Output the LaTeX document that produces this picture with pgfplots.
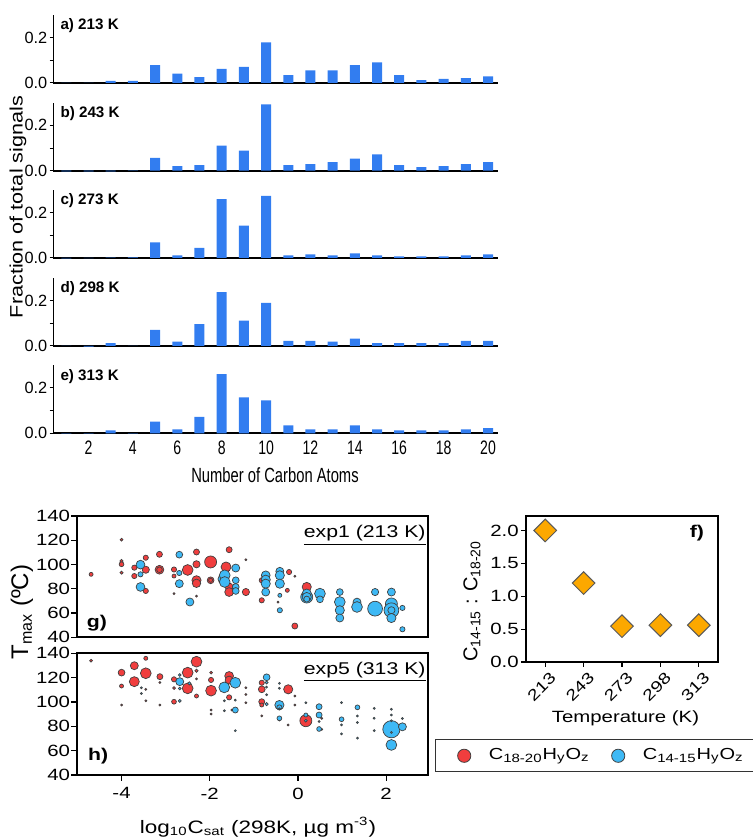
\documentclass[border=0pt]{standalone}
\usepackage{fontspec}
\setmainfont{Liberation Sans}
\newfontfamily\narrowfont{Liberation Sans}[FakeStretch=0.72]
\newfontfamily\widefont{Liberation Sans}[FakeStretch=1.25]
\newfontfamily\tallfont{Liberation Sans}[FakeStretch=1.2]
\usepackage{pgfplots}
\usepackage{pgfplotstable}
\pgfplotsset{compat=1.18}

\definecolor{barblue}{RGB}{50,125,240}
\definecolor{dotred}{RGB}{240,62,62}
\definecolor{dotblue}{RGB}{62,185,245}
\definecolor{dmd}{RGB}{252,168,0}

\pgfplotstableread{
n A B C D E
1 0.001 -0.003 -0.002 0.001 -0.002
2 0.001 -0.003 -0.001 -0.003 0.001
3 0.009 -0.003 0.002 0.013 0.013
4 0.009 0.001 0.003 0.001 0.001
5 0.079 0.057 0.069 0.071 0.052
6 0.041 0.020 0.012 0.019 0.017
7 0.026 0.025 0.045 0.096 0.072
8 0.062 0.111 0.260 0.238 0.261
9 0.071 0.088 0.143 0.112 0.159
10 0.179 0.293 0.274 0.190 0.145
11 0.035 0.025 0.012 0.023 0.035
12 0.056 0.029 0.016 0.023 0.017
13 0.056 0.038 0.012 0.019 0.017
14 0.079 0.053 0.020 0.033 0.035
15 0.091 0.072 0.012 0.013 0.017
16 0.035 0.025 0.007 0.013 0.013
17 0.013 0.016 0.007 0.013 0.013
18 0.018 0.020 0.007 0.013 0.013
19 0.022 0.029 0.012 0.023 0.017
20 0.029 0.038 0.016 0.023 0.023
}\bars

\pgfplotstableread{
x y r
-4.69 91.9 1.0
-4.00 120.5 0.7
-4.00 102.9 0.8
-4.00 100.2 1.2
-4.00 93.3 0.8
-3.71 97.4 1.3
-3.71 90.5 1.3
-3.45 105.6 1.3
-3.45 95.7 1.8
-3.45 78.2 1.3
-3.14 108.4 1.5
-3.14 95.7 2.2
-3.14 95.7 1.4
-2.81 95.9 1.3
-2.81 90.5 1.0
-2.81 76.0 0.5
-2.50 95.5 2.7
-2.30 110.3 1.5
-2.30 100.2 1.8
-2.30 87.0 2.3
-2.30 84.5 2.1
-2.30 74.0 0.5
-1.98 102.1 3.0
-1.98 87.0 1.7
-1.98 87.0 1.0
-1.56 112.2 1.5
-1.63 98.0 2.5
-1.56 81.5 2.0
-1.56 77.3 2.2
-1.18 77.3 1.8
-1.18 104.0 0.5
-0.82 87.0 1.3
-0.82 70.5 1.3
-0.20 93.8 1.3
-0.07 90.3 0.5
-0.24 78.7 1.0
-0.45 69.0 0.5
-0.07 49.3 1.5
0.20 81.5 2.3
}\gred

\pgfplotstableread{
x y r
-3.57 99.9 2.2
-3.57 91.9 1.3
-3.57 81.5 2.2
-2.69 108.1 1.7
-2.69 93.0 1.3
-2.69 84.2 2.0
-2.45 69.1 2.0
-1.70 88.0 2.5
-1.66 91.1 2.7
-1.66 85.6 2.7
-1.41 97.1 2.0
-1.41 87.0 1.7
-1.41 81.5 1.7
-1.41 78.2 1.7
-0.73 91.1 2.2
-0.73 87.5 2.3
-0.73 84.2 2.3
-0.73 77.3 2.0
-0.41 94.4 2.0
-0.41 91.1 2.3
-0.41 84.2 2.3
-0.41 74.6 1.0
-0.41 62.3 1.3
0.20 73.2 3.0
0.20 76.0 2.3
0.20 73.2 2.3
0.20 71.5 1.5
0.50 76.0 2.7
0.50 71.3 1.7
0.95 77.3 1.7
0.95 69.1 2.7
0.95 62.3 2.3
0.95 55.9 2.0
1.34 69.0 2.0
1.34 65.0 2.7
1.75 77.3 1.8
1.75 63.6 3.7
2.12 77.3 2.0
2.12 67.5 3.0
2.12 62.3 3.7
2.12 62.3 1.8
2.12 55.9 2.3
2.37 64.2 1.3
2.37 46.6 1.3
}\gblue

\pgfplotstableread{
x y r
-4.69 133.9 0.7
-3.45 135.9 1.0
-4.00 124.1 1.7
-4.00 113.1 1.0
-4.00 97.5 0.5
-3.71 129.8 2.0
-3.71 116.7 2.5
-3.45 123.6 2.7
-3.45 110.4 0.5
-3.45 101.0 0.5
-3.13 120.8 1.5
-3.13 116.0 0.5
-3.13 97.5 0.5
-2.81 118.6 1.3
-2.81 111.4 0.7
-2.81 100.2 1.2
-2.50 124.1 2.7
-2.50 111.2 2.7
-2.30 133.1 2.7
-2.30 125.7 0.8
-2.30 119.0 0.5
-2.30 104.9 1.0
-1.97 124.1 0.7
-1.97 118.1 1.3
-1.97 109.3 2.7
-1.97 93.4 0.5
-1.97 90.1 0.5
-1.56 121.4 2.2
-1.56 118.0 2.0
-1.56 103.8 1.3
-1.50 93.4 0.5
-1.18 111.7 0.5
-1.18 106.2 0.5
-1.18 99.4 0.5
-0.82 115.8 1.3
-0.82 110.4 1.7
-0.82 100.2 1.5
-0.82 97.5 1.0
-0.82 88.5 0.5
-0.22 110.4 2.3
-0.07 104.9 0.5
-0.07 97.5 0.5
-0.22 81.1 0.5
-0.42 85.2 0.5
0.18 84.6 3.0
0.54 86.5 0.5
0.54 77.5 0.5
}\hred

\pgfplotstableread{
x y r
-3.55 111.6 0.5
-3.55 107.0 0.5
-2.68 122.2 0.7
-2.68 116.7 2.0
-2.68 111.0 0.7
-2.68 100.9 0.7
-2.46 115.3 0.8
-1.67 112.0 2.7
-1.42 115.8 2.7
-1.67 101.0 0.5
-1.42 101.5 0.5
-1.42 93.4 1.5
-1.67 92.8 0.5
-1.42 76.4 0.5
-0.71 120.3 1.7
-0.71 116.0 0.8
-0.71 112.2 0.5
-0.71 106.0 0.5
-0.71 98.3 0.8
-0.42 115.3 0.5
-0.42 111.2 0.5
-0.42 97.5 2.3
-0.42 95.5 1.3
-0.42 94.4 0.5
-0.42 86.6 1.2
0.18 99.4 0.5
0.18 89.3 1.0
0.18 84.6 0.7
0.48 96.1 1.5
0.48 89.3 1.5
0.48 84.0 0.5
0.48 77.8 1.2
0.99 99.5 0.5
0.99 85.8 1.2
0.99 81.2 0.5
0.99 73.8 0.5
1.35 95.6 1.2
1.35 88.5 0.5
1.35 83.1 0.5
1.35 70.3 0.5
1.73 94.8 0.5
1.73 86.6 0.5
1.73 76.5 0.5
2.12 77.6 4.3
2.12 64.7 2.7
2.12 94.0 0.5
2.12 89.3 0.5
2.12 84.5 0.5
2.12 75.0 0.5
2.37 86.4 0.5
2.37 79.6 2.0
}\hblue

\pgfplotsset{
  topbar/.style={
    scale only axis, width=222.5pt, height=34pt, anchor=south west,
    xmin=0.4, xmax=20.45, ymin=0, ymax=0.3,
    axis x line*=bottom, axis y line*=left,
    x axis line style={-, line width=1.15pt},
    y axis line style={-, line width=0.5pt},
    ytick={0,0.2}, yticklabels={0.0,0.2}, minor ytick={0.1},
    tick align=outside, major tick length=1.7pt, minor tick length=1.7pt,
    tick style={black, line width=0.5pt},
    xtick=\empty,
    clip=false,
    yticklabel style={font=\fontsize{8.15}{9}\selectfont, inner sep=1pt},
  },
  barsty/.style={ybar, bar width=5pt, fill=barblue, draw=none},
  gh/.style={
    scale only axis, width=175.5pt, anchor=south west,
    xmin=-5.01, xmax=2.95, ymin=40, ymax=140,
    ytick={40,60,80,100,120,140}, yticklabels={40,60,80,100,120,140},
    axis line style={line width=0.85pt},
    tick align=outside, ytick pos=left, xtick pos=bottom,
    major tick length=2.8pt, tick style={black, line width=0.6pt},
    tick label style={font=\widefont\fontsize{8.15}{9}\selectfont},
    yticklabel style={inner sep=0.5pt},
  },
  redpts/.style={scatter, only marks, mark=*, point meta=\thisrow{r},
    scatter/use mapped color={draw=black!75, fill=dotred},
    visualization depends on={\thisrow{r} \as \rr},
    scatter/@pre marker code/.append style={/tikz/mark size=\rr pt},
    mark options={line width=0.35pt}, forget plot},
  bluepts/.style={scatter, only marks, mark=*, point meta=\thisrow{r},
    scatter/use mapped color={draw=black!75, fill=dotblue},
    visualization depends on={\thisrow{r} \as \rr},
    scatter/@pre marker code/.append style={/tikz/mark size=\rr pt},
    mark options={line width=0.35pt}, forget plot},
}

\begin{document}
\begin{tikzpicture}
\useasboundingbox (0,0) rectangle (376pt,420pt);

% ---- panels a-e ----
\begin{axis}[topbar, at={(26.5pt,378.5pt)}]
\addplot[barsty] table[x=n,y=A] {\bars};
\node[anchor=west, font=\bfseries\fontsize{7.6}{9}\selectfont, inner sep=0pt] at (rel axis cs:0.016,0.84) {a) 213 K};
\end{axis}
\begin{axis}[topbar, at={(26.5pt,334.65pt)}]
\addplot[barsty] table[x=n,y=B] {\bars};
\node[anchor=west, font=\bfseries\fontsize{7.6}{9}\selectfont, inner sep=0pt] at (rel axis cs:0.016,0.84) {b) 243 K};
\end{axis}
\begin{axis}[topbar, at={(26.5pt,291pt)}]
\addplot[barsty] table[x=n,y=C] {\bars};
\node[anchor=west, font=\bfseries\fontsize{7.6}{9}\selectfont, inner sep=0pt] at (rel axis cs:0.016,0.84) {c) 273 K};
\end{axis}
\begin{axis}[topbar, at={(26.5pt,247pt)}]
\addplot[barsty] table[x=n,y=D] {\bars};
\node[anchor=west, font=\bfseries\fontsize{7.6}{9}\selectfont, inner sep=0pt] at (rel axis cs:0.016,0.84) {d) 298 K};
\end{axis}
\begin{axis}[topbar, at={(26.5pt,203.35pt)},
  xtick={2,4,6,8,10,12,14,16,18,20},
  xticklabels={2,4,6,8,10,12,14,16,18,20},
  major x tick style={draw=none},
  xticklabel style={font=\narrowfont\fontsize{9.75}{10}\selectfont, inner sep=2pt}]
\addplot[barsty] table[x=n,y=E] {\bars};
\node[anchor=west, font=\bfseries\fontsize{7.6}{9}\selectfont, inner sep=0pt] at (rel axis cs:0.016,0.84) {e) 313 K};
\end{axis}

\node[rotate=90, font=\tallfont\fontsize{9}{11}\selectfont, inner sep=0pt] at (9pt,316.5pt) {Fraction of total signals};
\node[font=\narrowfont\fontsize{10.25}{12}\selectfont] at (137.5pt,182.5pt) {Number of Carbon Atoms};

% ---- panel g ----
\begin{axis}[gh, height=60.65pt, at={(38.5pt,101.35pt)}, xtick=\empty]
\addplot[redpts] table {\gred};
\addplot[bluepts] table {\gblue};
\node[anchor=east, font=\widefont\fontsize{8.5}{10}\selectfont, inner sep=0.5pt] at (rel axis cs:0.997,0.84) {\underline{exp1 (213 K)}};
\node[font=\widefont\bfseries\fontsize{8.5}{10}\selectfont] at (rel axis cs:0.057,0.118) {g)};
\end{axis}

% ---- panel h ----
\begin{axis}[gh, height=60.85pt, at={(38.5pt,32.5pt)},
  xtick={-4,-2,0,2}, xticklabels={-4,-2,0,2},
  legend style={at={(1.02,0.295)}, anchor=north west, legend columns=2,
    draw=black!80, line width=0.6pt, fill=white,
    font=\widefont\fontsize{8}{10}\selectfont, inner xsep=11pt, inner ysep=2.5pt,
    /tikz/every odd column/.append style={column sep=7pt},
    /tikz/every even column/.append style={column sep=9pt}}]
\addplot[redpts] table {\hred};
\addplot[bluepts] table {\hblue};
\addlegendimage{only marks, mark=*, mark size=3.3pt, mark options={draw=black!75, fill=dotred, line width=0.4pt}}
\addlegendentry{C\textsubscript{18-20}H\textsubscript{y}O\textsubscript{z}}
\addlegendimage{only marks, mark=*, mark size=3.3pt, mark options={draw=black!75, fill=dotblue, line width=0.4pt}}
\addlegendentry{C\textsubscript{14-15}H\textsubscript{y}O\textsubscript{z}}
\node[anchor=east, font=\widefont\fontsize{8.5}{10}\selectfont, inner sep=0.5pt] at (rel axis cs:0.997,0.846) {\underline{exp5 (313 K)}};
\node[font=\widefont\bfseries\fontsize{8.5}{10}\selectfont] at (rel axis cs:0.06,0.156) {h)};
\end{axis}

\node[rotate=90, font=\fontsize{12}{14}\selectfont] at (11pt,114pt) {T\textsubscript{max} (ºC)};
\node[font=\widefont\fontsize{9}{11}\selectfont] at (129pt,6.5pt) {log\textsubscript{10}C\textsubscript{sat} (298K, µg m\textsuperscript{-3})};

% ---- panel f ----
\begin{axis}[scale only axis, width=96pt, height=73pt, at={(263pt,89pt)}, anchor=south west,
  xmin=-0.5, xmax=4.5, ymin=0, ymax=2.22,
  xtick={0,1,2,3,4}, xticklabels={213,243,273,298,313},
  ytick={0,0.5,1,1.5,2}, yticklabels={0.0,0.5,1.0,1.5,2.0},
  tick align=outside, xtick pos=bottom, ytick pos=left,
  major tick length=2.5pt, tick style={black, line width=0.6pt},
  axis line style={line width=0.65pt},
  tick label style={font=\widefont\fontsize{8.15}{9}\selectfont},
  yticklabel style={inner sep=1pt},
  xticklabel style={font=\widefont\fontsize{7.8}{9}\selectfont, xshift=-1.8pt, yshift=-10pt, rotate=45, anchor=center, inner sep=0pt}]
\addplot[only marks, mark=square*, mark size=4pt, mark options={rotate=45, fill=dmd, draw=black!65, line width=0.5pt}]
  coordinates {(0,2.0) (1,1.2) (2,0.545) (3,0.56) (4,0.56)};
\node[font=\widefont\bfseries\fontsize{8.5}{10}\selectfont] at (rel axis cs:0.89,0.884) {f)};
\end{axis}

\node[rotate=90, font=\fontsize{10}{12}\selectfont] at (236pt,119.5pt) {C\textsubscript{14-15} : C\textsubscript{18-20}};
\node[font=\widefont\fontsize{8.15}{10}\selectfont] at (312.75pt,61pt) {Temperature (K)};

\end{tikzpicture}
\end{document}
